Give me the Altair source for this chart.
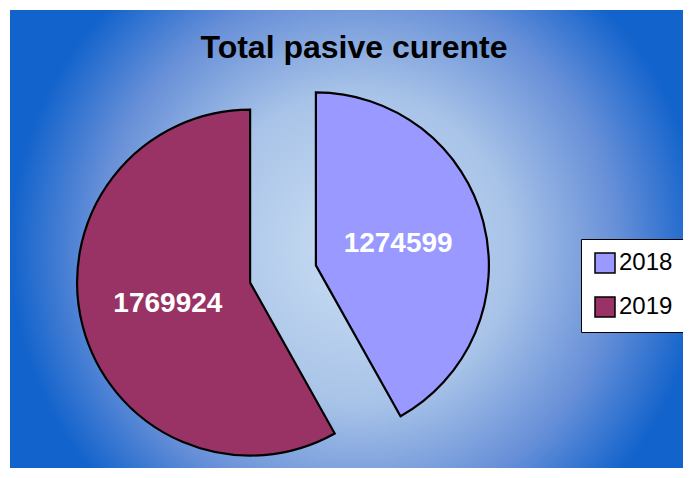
import altair as alt
import pandas as pd

years = ["2018", "2019"]
values = [1274599, 1769924]
colors = ["#9999FF", "#993366"]
title_text = "Total pasive curente"

df = pd.DataFrame({"year": years, "value": values})

W, H = 673, 458
CX, CY = 273, 264      # pie centre (view px)
EXPLODE = 34           # explosion distance
LABEL_R = 119          # label distance from centre
RADIUS = 173

gradient = {
    "gradient": "radial",
    "x1": 0.5, "y1": 0.5, "r1": 0,
    "x2": 0.5, "y2": 0.5, "r2": 0.5,
    "stops": [
        {"offset": 0.0, "color": "#cadef3"},
        {"offset": 0.45, "color": "#a8c3e8"},
        {"offset": 0.75, "color": "#6890d8"},
        {"offset": 1.0, "color": "#1263cc"},
    ],
}

bg = alt.Chart(pd.DataFrame({"t": [title_text]})).mark_rect(
    color=gradient, strokeWidth=0
).encode(
    x=alt.value(0), x2=alt.value(W + 20), y=alt.value(0), y2=alt.value(H + 20)
)

base = alt.Chart(df).transform_joinaggregate(
    total="sum(value)"
).transform_window(
    cum="sum(value)", sort=[alt.SortField("year", order="ascending")], frame=[None, 0]
).transform_calculate(
    mid="(datum.cum - datum.value/2) / datum.total * 2 * PI"
).transform_calculate(
    cx=f"{CX} + {EXPLODE} * sin(datum.mid)",
    cy=f"{CY} - {EXPLODE} * cos(datum.mid)",
    lx=f"{CX} + {LABEL_R} * sin(datum.mid)",
    ly=f"{CY} - {LABEL_R} * cos(datum.mid)",
)

arcs = base.mark_arc(radius=RADIUS, stroke="black", strokeWidth=2.2).encode(
    theta=alt.Theta("value:Q", stack=True),
    order=alt.Order("year:N", sort="ascending"),
    color=alt.Color(
        "year:N",
        scale=alt.Scale(domain=years, range=colors),
        legend=alt.Legend(
            title=None, orient="none", legendX=571, legendY=229,
            fillColor="white", strokeColor="black",
            symbolType="square", symbolSize=400,
            symbolStrokeColor="black", symbolStrokeWidth=1.5, symbolOpacity=1,
            labelFontSize=24, labelFont="Liberation Sans", labelColor="black",
            labelOffset=2, padding=12, rowPadding=18,
            labelExpr="datum.label + '            '",
        ),
    ),
    x=alt.X("cx:Q", scale=None),
    y=alt.Y("cy:Q", scale=None),
)

labels = base.mark_text(
    font="Liberation Sans", fontSize=28, fontWeight="bold", color="white",
    align="center", baseline="middle",
).encode(
    x=alt.X("lx:Q", scale=None),
    y=alt.Y("ly:Q", scale=None),
    text=alt.Text("value:Q", format="d"),
)

title = alt.Chart(pd.DataFrame({"t": [title_text]})).mark_text(
    font="Liberation Sans", fontSize=32, fontWeight="bold", color="black",
    align="center", baseline="alphabetic",
).encode(
    x=alt.value(344), y=alt.value(48), text="t:N"
)

chart = alt.layer(bg, arcs, labels, title).properties(
    width=W, height=H,
    autosize=alt.AutoSizeParams(type="none"),
    padding={"left": 2, "top": 2, "right": 0, "bottom": 0},
    background="white",
).configure_view(strokeWidth=0, clip=True)

chart.save("out.html", embed_options={"renderer": "svg", "actions": False})
